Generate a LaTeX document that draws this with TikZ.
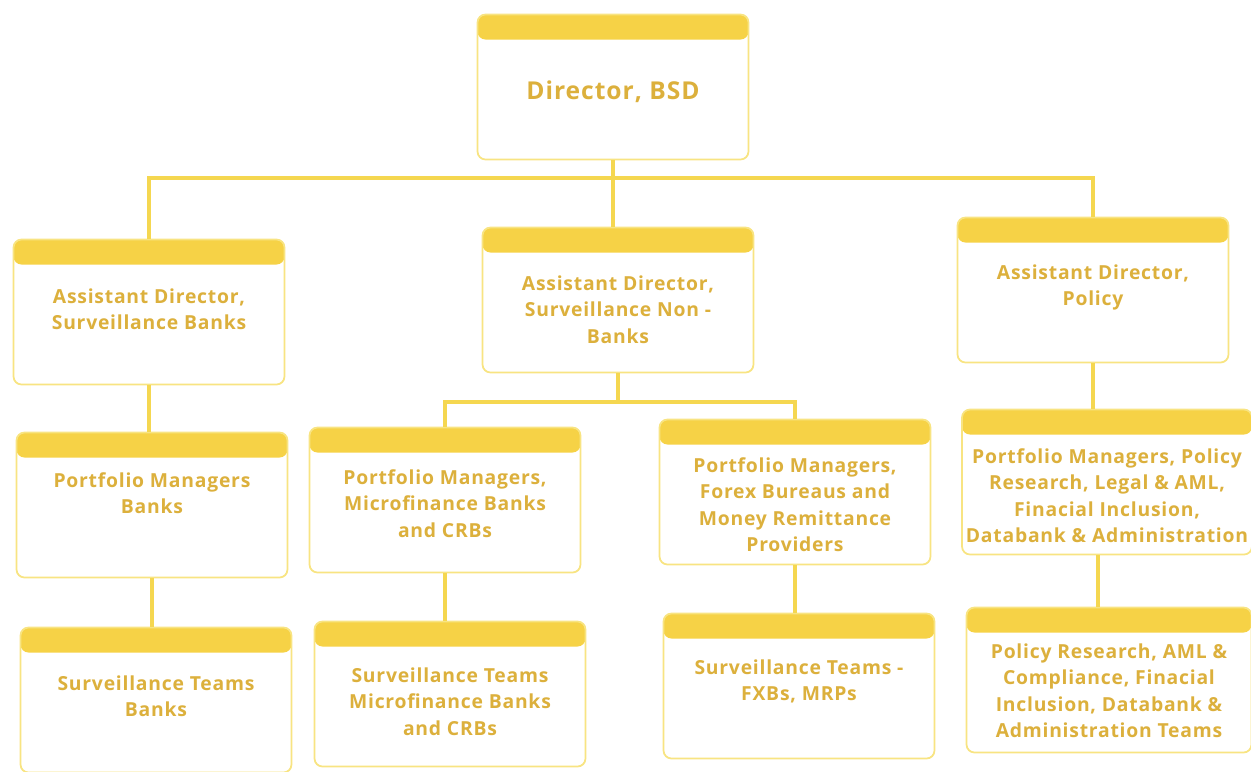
\documentclass[tikz,border=0pt]{standalone}
\usepackage{fontspec}
\setmainfont{Open Sans}[LetterSpace=4]
\usetikzlibrary{positioning}
\definecolor{bsdtext}{RGB}{220,176,60}
\definecolor{bsdhead}{RGB}{246,210,70}
\definecolor{bsdedge}{RGB}{248,228,130}
\definecolor{bsdline}{RGB}{245,215,80}

\begin{document}
\begin{tikzpicture}[x=0.02cm, y=-0.02cm,
    unit/.style={draw=bsdedge, line width=1pt, rounded corners=4.5pt, fill=white,
      minimum width=5.42cm, minimum height=2.9cm,
      path picture={\fill[bsdhead] (path picture bounding box.north west)
        rectangle ([yshift=-0.5cm]path picture bounding box.north east);}},
    unittext/.style={anchor=north, align=center, text=bsdtext,
      font=\bfseries\fontsize{11}{15}\selectfont},
    link/.style={draw=bsdline, line width=2.2pt}]
  \useasboundingbox (0,0) rectangle (1251,771);
  % top
  \node[unit] (dir) at (613,87) {};
  \node[unittext, font=\bfseries\fontsize{14}{17}\selectfont] (dirtxt)
    at ([yshift=-1.22cm]dir.north) {Director, BSD};
  % assistant directors
  \node[unit] (adbanks) at (149,312) {};
  \node[unittext] (adbankstxt) at ([yshift=-0.88cm]adbanks.north)
    {Assistant Director,\\Surveillance Banks};
  \node[unit] (adnonbanks) at (618,300) {};
  \node[unittext] (adnonbankstxt) at ([yshift=-0.86cm]adnonbanks.north)
    {Assistant Director,\\Surveillance Non -\\Banks};
  \node[unit] (adpolicy) at (1093,290) {};
  \node[unittext] (adpolicytxt) at ([yshift=-0.84cm]adpolicy.north)
    {Assistant Director,\\Policy};
  % portfolio managers
  \node[unit] (pmbanks) at (152,505) {};
  \node[unittext] (pmbankstxt) at ([yshift=-0.7cm]pmbanks.north)
    {Portfolio Managers\\Banks};
  \node[unit] (pmmfb) at (445,500) {};
  \node[unittext] (pmmfbtxt) at ([yshift=-0.74cm]pmmfb.north)
    {Portfolio Managers,\\Microfinance Banks\\and CRBs};
  \node[unit] (pmfxb) at (795,492) {};
  \node[unittext] (pmfxbtxt) at ([yshift=-0.66cm]pmfxb.north)
    {Portfolio Managers,\\Forex Bureaus and\\Money Remittance\\Providers};
  \node[unit, minimum width=5.8cm] (pmpolicy) at (1107,482) {};
  \node[unittext] (pmpolicytxt) at ([yshift=-0.68cm]pmpolicy.north)
    {Portfolio Managers, Policy\\Research, Legal \& AML,\\Finacial Inclusion,\\Databank \& Administration};
  % teams
  \node[unit] (stbanks) at (156,700) {};
  \node[unittext] (stbankstxt) at ([yshift=-0.86cm]stbanks.north)
    {Surveillance Teams\\Banks};
  \node[unit] (stmfb) at (450,694) {};
  \node[unittext] (stmfbtxt) at ([yshift=-0.82cm]stmfb.north)
    {Surveillance Teams\\Microfinance Banks\\and CRBs};
  \node[unit] (stfxb) at (799,686) {};
  \node[unittext] (stfxbtxt) at ([yshift=-0.82cm]stfxb.north)
    {Surveillance Teams -\\FXBs, MRPs};
  \node[unit, minimum width=5.7cm] (stpolicy) at (1109,680) {};
  \node[unittext] (stpolicytxt) at ([yshift=-0.62cm]stpolicy.north)
    {Policy Research, AML \&\\Compliance, Finacial\\Inclusion, Databank \&\\Administration Teams};
  % connectors
  \coordinate (j1) at (613,178);
  \draw[link] (dir.south) -- (j1) -- (j1 |- adnonbanks.north);
  \draw[link] (j1) -| (adbanks.north);
  \draw[link] (j1) -| (adpolicy.north);
  \coordinate (j2) at (618,402);
  \draw[link] (adnonbanks.south) -- (j2);
  \draw[link] (j2) -| (pmmfb.north);
  \draw[link] (j2) -| (pmfxb.north);
  \draw[link] (adbanks.south) -- (adbanks.south |- pmbanks.north);
  \draw[link] (adpolicy.south) -- (adpolicy.south |- pmpolicy.north);
  \draw[link] (pmbanks.south) -- (pmbanks.south |- stbanks.north);
  \draw[link] (pmmfb.south) -- (pmmfb.south |- stmfb.north);
  \draw[link] (pmfxb.south) -- (pmfxb.south |- stfxb.north);
  \coordinate (j3) at (1098,555);
  \draw[link] (j3) -- (j3 |- stpolicy.north);
\end{tikzpicture}
\end{document}
